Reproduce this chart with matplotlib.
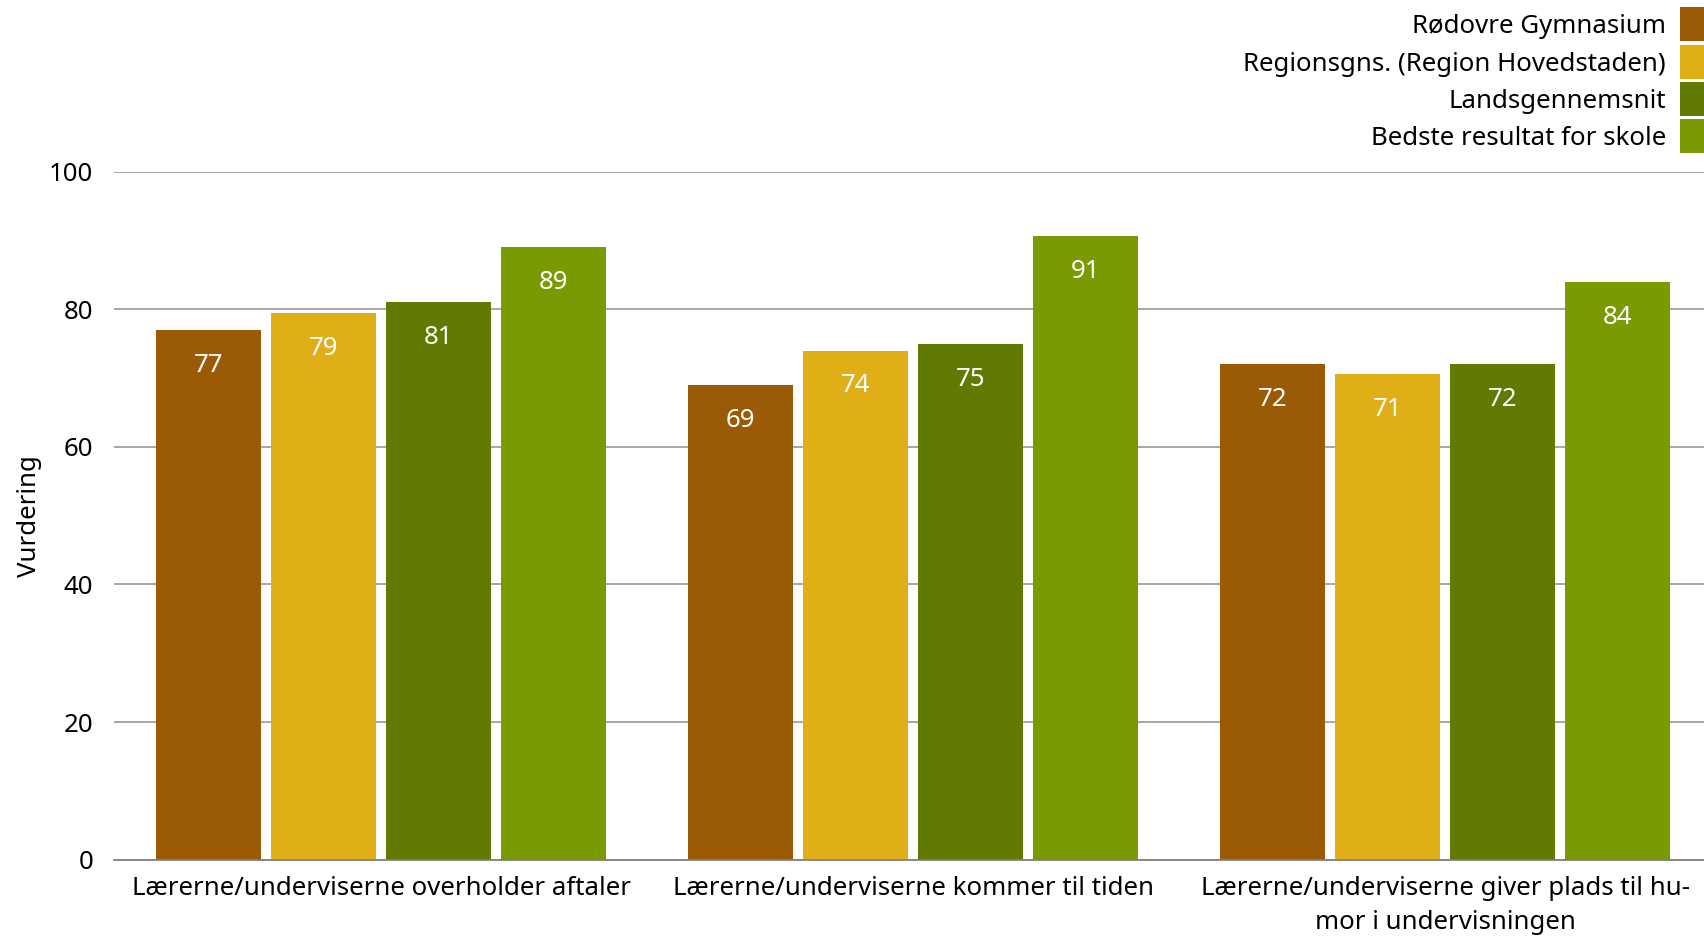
import matplotlib.pyplot as plt
from matplotlib.patches import Rectangle
import numpy as np

plt.rcParams['font.family'] = ['Noto Sans', 'DejaVu Sans']

kategorier = [
    "Lærerne/underviserne overholder aftaler",
    "Lærerne/underviserne kommer til tiden",
    "Lærerne/underviserne giver plads til hu-\nmor i undervisningen",
]
serier = [
    "Rødovre Gymnasium",
    "Regionsgns. (Region Hovedstaden)",
    "Landsgennemsnit",
    "Bedste resultat for skole",
]
rodovre = [77, 69, 72]
region = [79.4, 74, 70.6]
lands = [81, 75, 72]
bedste = [89, 90.6, 84]
farver = ["#9b5a05", "#e0ae17", "#607a02", "#7a9a02"]

W, H = 1704, 941
fs = 18.6
fig = plt.figure(figsize=(W / 100, H / 100), dpi=100)
ax = fig.add_axes([114 / W, 1 - 859.6 / H, 1 - 114 / W, (859.6 - 171.7) / H])

x = np.arange(len(kategorier))
bredde = 0.197
skridt = 0.216
for i, (vaerdier, farve) in enumerate(zip([rodovre, region, lands, bedste], farver)):
    pos = x + (i - 1.5) * skridt
    ax.bar(pos, vaerdier, width=bredde, color=farve, zorder=2)
    for px, v in zip(pos, vaerdier):
        ax.annotate(f"{v:.0f}", xy=(px, v), xytext=(0, -25.5), textcoords="offset points",
                    ha="center", va="center", color="white", fontsize=fs)

ax.set_xlim(-0.502, -0.502 + 1590 / 532)
ax.set_ylim(0, 100)
ax.set_yticks([0, 20, 40, 60, 80, 100])
ax.yaxis.grid(True, color="#a0a0a0", linewidth=1.3, zorder=0)
ax.set_axisbelow(True)
for s in ["top", "right", "left"]:
    ax.spines[s].set_visible(False)
ax.spines["bottom"].set_color("#808080")
ax.spines["bottom"].set_linewidth(1.3)
ax.tick_params(axis="both", length=0, labelsize=fs, colors="black")
ax.tick_params(axis="y", pad=15)
ax.tick_params(axis="x", pad=12)
ax.set_xticks(x)
ax.set_xticklabels(kategorier, linespacing=1.45)
ax.set_ylabel("Vurdering", fontsize=fs, labelpad=5)

# forklaring: farvede felter i højre side, tekst højrestillet
felt_top = [7, 45, 82, 119]
for top, navn, farve in zip(felt_top, serier, farver):
    fig.patches.append(Rectangle((1680 / W, 1 - (top + 34) / H), 24 / W, 34 / H,
                                 transform=fig.transFigure, facecolor=farve,
                                 edgecolor="none"))
    fig.text(1666 / W, 1 - (top + 17 + 9.3) / H, navn, ha="right", va="baseline",
             fontsize=fs)

fig.savefig("out.png", dpi=100)
